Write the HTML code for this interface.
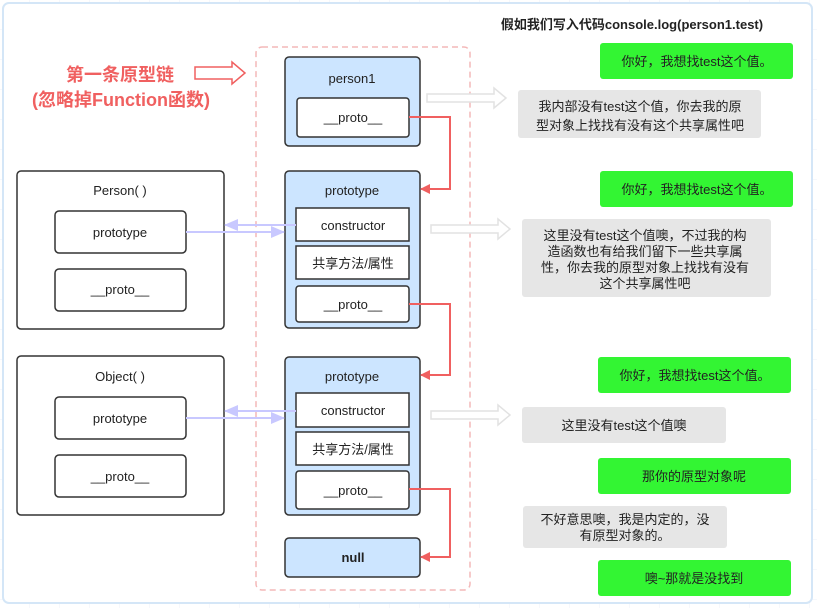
<!DOCTYPE html>
<html><head><meta charset="utf-8"><style>
html,body{margin:0;padding:0;background:#fff;}
svg{display:block;font-family:"Liberation Sans","Noto Sans CJK SC",sans-serif;}
</style></head><body>
<svg width="817" height="608" viewBox="0 0 817 608" xmlns="http://www.w3.org/2000/svg">
<defs>
<pattern id="g" width="30" height="30" patternUnits="userSpaceOnUse"><path d="M30 0V30H0" fill="none" stroke="#eef2f8" stroke-width="1"/></pattern>
<marker id="ra" markerWidth="10" markerHeight="10" refX="9" refY="5" orient="auto" markerUnits="userSpaceOnUse"><path d="M0,0 L10,5 L0,10 z" fill="#f06060"/></marker>
<marker id="pa" markerWidth="14" markerHeight="12" refX="13" refY="6" orient="auto" markerUnits="userSpaceOnUse"><path d="M0,0 L14,6 L0,12 z" fill="#c8c8ff"/></marker>
</defs>
<rect width="817" height="608" fill="url(#g)"/>
<rect x="3" y="3" width="809" height="600" rx="6" fill="#fff" stroke="#d4e6f7" stroke-width="2"/>

<rect x="256" y="47" width="214" height="543" rx="6" fill="none" stroke="#f4b8b8" stroke-width="1.5" stroke-dasharray="6,4"/>

<text x="632" y="29" font-size="13" font-weight="bold" text-anchor="middle" fill="#222">假如我们写入代码console.log(person1.test)</text>

<text x="120" y="81" font-size="18" font-weight="bold" text-anchor="middle" fill="#f06060">第一条原型链</text>
<text x="121" y="106" font-size="18" font-weight="bold" text-anchor="middle" fill="#f06060">(忽略掉Function函数)</text>
<path d="M195,67 H232 V62 L245,73 L232,84 V79 H195 Z" fill="none" stroke="#f06060" stroke-width="1.5"/>

<g stroke="#333" stroke-width="1.5" font-size="13" fill="#222">
<rect x="285" y="57" width="135" height="89" rx="4" fill="#cce5ff"/>
<rect x="297" y="98" width="112" height="39" rx="3" fill="#fff"/>
<rect x="285" y="171" width="135" height="157" rx="4" fill="#cce5ff"/>
<rect x="296" y="208" width="113" height="33" fill="#fff"/>
<rect x="296" y="246" width="113" height="33" fill="#fff"/>
<rect x="296" y="286" width="113" height="36" rx="3" fill="#fff"/>
<rect x="285" y="357" width="135" height="158" rx="4" fill="#cce5ff"/>
<rect x="296" y="393" width="113" height="34" fill="#fff"/>
<rect x="296" y="432" width="113" height="33" fill="#fff"/>
<rect x="296" y="471" width="113" height="38" rx="3" fill="#fff"/>
<rect x="285" y="538" width="135" height="39" rx="4" fill="#cce5ff"/>
<rect x="17" y="171" width="207" height="158" rx="4" fill="#fff"/>
<rect x="55" y="211" width="131" height="42" rx="4" fill="#fff"/>
<rect x="55" y="269" width="131" height="42" rx="4" fill="#fff"/>
<rect x="17" y="356" width="207" height="159" rx="4" fill="#fff"/>
<rect x="55" y="397" width="131" height="42" rx="4" fill="#fff"/>
<rect x="55" y="455" width="131" height="42" rx="4" fill="#fff"/>
</g>

<g font-size="13" fill="#222" text-anchor="middle">
<text x="352" y="83">person1</text>
<text x="353" y="122">__proto__</text>
<text x="352" y="195">prototype</text>
<text x="353" y="230">constructor</text>
<text x="353" y="268">共享方法/属性</text>
<text x="353" y="309">__proto__</text>
<text x="352" y="381">prototype</text>
<text x="353" y="415">constructor</text>
<text x="353" y="454">共享方法/属性</text>
<text x="353" y="495">__proto__</text>
<text x="353" y="562" font-weight="bold">null</text>
<text x="120" y="195">Person( )</text>
<text x="120" y="237">prototype</text>
<text x="120" y="294">__proto__</text>
<text x="120" y="381">Object( )</text>
<text x="120" y="423">prototype</text>
<text x="120" y="481">__proto__</text>
</g>

<g stroke="#c8c8ff" stroke-width="2" fill="none">
<line x1="296" y1="225" x2="225" y2="225" marker-end="url(#pa)"/>
<line x1="186" y1="232" x2="284" y2="232" marker-end="url(#pa)"/>
<line x1="296" y1="411" x2="225" y2="411" marker-end="url(#pa)"/>
<line x1="186" y1="418" x2="284" y2="418" marker-end="url(#pa)"/>
</g>

<g stroke="#f06060" stroke-width="2" fill="none">
<path d="M409,117 H450 V189 H421" marker-end="url(#ra)"/>
<path d="M409,304 H450 V375 H421" marker-end="url(#ra)"/>
<path d="M409,489 H450 V557 H421" marker-end="url(#ra)"/>
</g>

<g fill="#fff" stroke="#e2e2e2" stroke-width="1.5">
<path d="M427,94 H494 V88 L506,98 L494,108 V102 H427 Z"/>
<path d="M431,225 H498 V219 L510,229 L498,239 V233 H431 Z"/>
<path d="M431,411 H498 V405 L510,415 L498,425 V419 H431 Z"/>
</g>

<g fill="#33f533">
<rect x="600" y="43" width="193" height="36" rx="3"/>
<rect x="600" y="171" width="193" height="36" rx="3"/>
<rect x="598" y="357" width="193" height="36" rx="3"/>
<rect x="598" y="458" width="193" height="36" rx="3"/>
<rect x="598" y="560" width="193" height="36" rx="3"/>
</g>
<g fill="#e6e6e6">
<rect x="518" y="90" width="243" height="48" rx="3"/>
<rect x="522" y="219" width="249" height="78" rx="3"/>
<rect x="522" y="407" width="204" height="36" rx="3"/>
<rect x="523" y="506" width="204" height="42" rx="3"/>
</g>
<g font-size="13" fill="#222" text-anchor="middle">
<text x="697" y="66">你好，我想找test这个值。</text>
<text x="697" y="194">你好，我想找test这个值。</text>
<text x="695" y="380">你好，我想找test这个值。</text>
<text x="694" y="481">那你的原型对象呢</text>
<text x="694" y="583">噢~那就是没找到</text>
<text x="640" y="111">我内部没有test这个值，你去我的原</text>
<text x="640" y="130">型对象上找找有没有这个共享属性吧</text>
<text x="645" y="240">这里没有test这个值噢，不过我的构</text>
<text x="645" y="256">造函数也有给我们留下一些共享属</text>
<text x="645" y="272">性，你去我的原型对象上找找有没有</text>
<text x="645" y="288">这个共享属性吧</text>
<text x="624" y="430">这里没有test这个值噢</text>
<text x="625" y="524">不好意思噢，我是内定的，没</text>
<text x="625" y="540">有原型对象的。</text>
</g>
</svg>
</body></html>
